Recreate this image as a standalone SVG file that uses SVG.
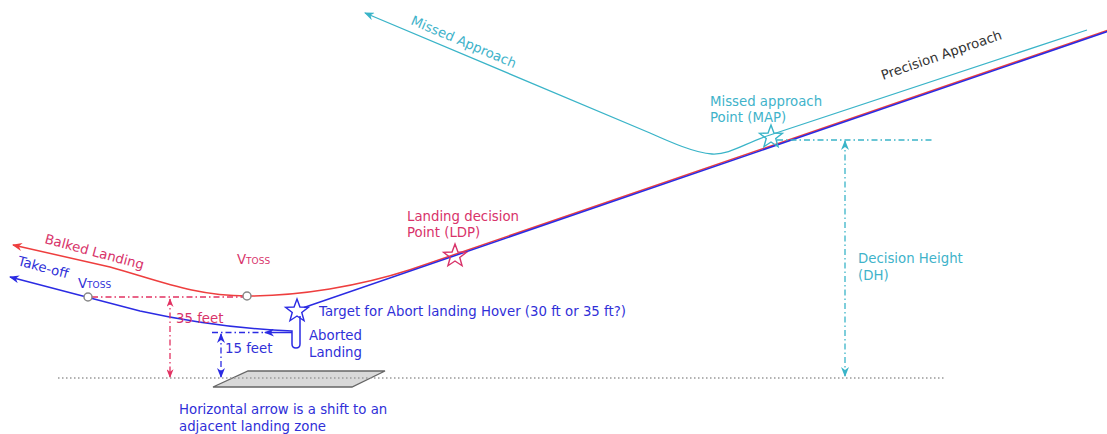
<svg xmlns="http://www.w3.org/2000/svg" width="1107" height="434" viewBox="0 0 1107 434">
<style>
text{font-family:"DejaVu Sans","Liberation Sans",sans-serif;font-size:13.3px}
.pink{fill:#d8336a}
.blue{fill:#3030d8}
.cyan{fill:#3fb3ca}
.dark{fill:#333333}
.ln{fill:none;stroke-width:1.5}
.red{stroke:#ee3e3e}
.bl{stroke:#2b2be3}
.cy{stroke:#3ab4c8;stroke-width:1.3}
.dd{fill:none;stroke-width:1.3;stroke-dasharray:6 3 1.5 3}
</style>
<defs>
<marker id="aR" viewBox="0 0 10 8" refX="9" refY="4" markerWidth="10" markerHeight="8" markerUnits="userSpaceOnUse" orient="auto-start-reverse"><path d="M0,0 L10,4 L0,8 L3,4 z" fill="#ee3e3e"/></marker>
<marker id="aB" viewBox="0 0 10 8" refX="9" refY="4" markerWidth="10" markerHeight="8" markerUnits="userSpaceOnUse" orient="auto-start-reverse"><path d="M0,0 L10,4 L0,8 L3,4 z" fill="#2b2be3"/></marker>
<marker id="aC" viewBox="0 0 10 8" refX="9" refY="4" markerWidth="10" markerHeight="8" markerUnits="userSpaceOnUse" orient="auto-start-reverse"><path d="M0,0 L10,4 L0,8 L3,4 z" fill="#3ab4c8"/></marker>
<marker id="aP" viewBox="0 0 10 8" refX="9" refY="4" markerWidth="9" markerHeight="7" markerUnits="userSpaceOnUse" orient="auto-start-reverse"><path d="M0,0 L10,4 L0,8 L3,4 z" fill="#e23262"/></marker>
<path id="star" d="M0,-12 L2.94,-4.05 L11.41,-3.71 L4.76,1.55 L7.05,9.71 L0,5 L-7.05,9.71 L-4.76,1.55 L-11.41,-3.71 L-2.94,-4.05 Z" fill="none" stroke-width="1.4"/>
</defs>

<g id="ground">
<polygon points="248,371 385,371 352,387 213,387" fill="#d9d9d9" stroke="#666666" stroke-width="1.3"/>
<line x1="58" y1="378" x2="945" y2="378" stroke="#999999" stroke-width="1.3" stroke-dasharray="1.5 2.5"/>
</g>

<g id="connectors">
<!-- missed approach -->
<path class="ln cy" d="M1087,30 L770,135 C745,143 730,155 712,154 C695,153 670,142 650,133 L365,13" marker-end="url(#aC)"/>
<!-- balked landing (red) -->
<path class="ln red" d="M1110,29.5 L410,269.8 C360,286 300,296 247,296 C195,296 160,281 110,267 L13,245" marker-end="url(#aR)"/>
<!-- approach to hover, take-off (blue) -->
<path class="ln bl" d="M1110,30.6 L304,307.5"/>
<path class="ln bl" d="M300,316 L300,344 Q300,348 296,348 Q292,348 292,344 L292,331 C240,329 190,322 140,311 L10,277" marker-end="url(#aB)"/>
<!-- horizontal shift arrow -->
<line class="ln bl" x1="292" y1="332.5" x2="265" y2="332.5" marker-end="url(#aB)"/>
<line class="dd" stroke="#2b2be3" x1="212" y1="332.5" x2="266" y2="332.5"/>
<!-- 35 feet -->
<line class="dd" stroke="#e23262" x1="92" y1="297" x2="243" y2="297"/>
<line class="dd" stroke="#e23262" x1="170" y1="299" x2="170" y2="377" marker-start="url(#aP)" marker-end="url(#aP)"/>
<!-- 15 feet -->
<line class="dd" stroke="#2b2be3" x1="221" y1="334" x2="221" y2="377" marker-start="url(#aB)" marker-end="url(#aB)"/>
<!-- decision height -->
<line class="dd" stroke="#3ab4c8" x1="777" y1="140" x2="932" y2="140"/>
<line class="dd" stroke="#3ab4c8" x1="845" y1="141" x2="845" y2="376" marker-start="url(#aC)" marker-end="url(#aC)"/>
</g>

<g id="vtoss-balked">
<circle cx="247" cy="296" r="4" fill="#ffffff" stroke="#888888" stroke-width="1.5"/>
<text class="pink" x="237" y="264">V<tspan font-size="9">TOSS</tspan></text>
</g>
<g id="vtoss-takeoff">
<circle cx="88" cy="297" r="4" fill="#ffffff" stroke="#888888" stroke-width="1.5"/>
<text class="blue" x="78" y="288">V<tspan font-size="9">TOSS</tspan></text>
</g>

<g id="ldp">
<use href="#star" x="455" y="256" stroke="#d8336a"/>
<text class="pink" x="407" y="221">Landing decision</text>
<text class="pink" x="407" y="237">Point (LDP)</text>
</g>

<g id="map">
<use href="#star" x="771" y="137" stroke="#3ab4c8"/>
<text class="cyan" x="710" y="106">Missed approach</text>
<text class="cyan" x="710" y="122">Point (MAP)</text>
</g>

<g id="target">
<use href="#star" x="297" y="311" stroke="#2b2be3"/>
<text class="blue" x="319" y="316">Target for Abort landing Hover (30 ft or 35 ft?)</text>
</g>

<g id="labels">
<text class="cyan" transform="translate(410,24) rotate(23)">Missed Approach</text>
<text class="dark" transform="translate(883,80) rotate(-19)">Precision Approach</text>
<text class="pink" transform="translate(44,243) rotate(15)">Balked Landing</text>
<text class="blue" transform="translate(17,265) rotate(15)">Take-off</text>
<text class="pink" x="176" y="323">35 feet</text>
<text class="blue" x="225" y="353">15 feet</text>
<text class="blue" x="309" y="340">Aborted</text>
<text class="blue" x="309" y="357">Landing</text>
<text class="cyan" x="858" y="263">Decision Height</text>
<text class="cyan" x="858" y="280">(DH)</text>
<text class="blue" x="179" y="414">Horizontal arrow is a shift to an</text>
<text class="blue" x="179" y="431">adjacent landing zone</text>
</g>
</svg>
